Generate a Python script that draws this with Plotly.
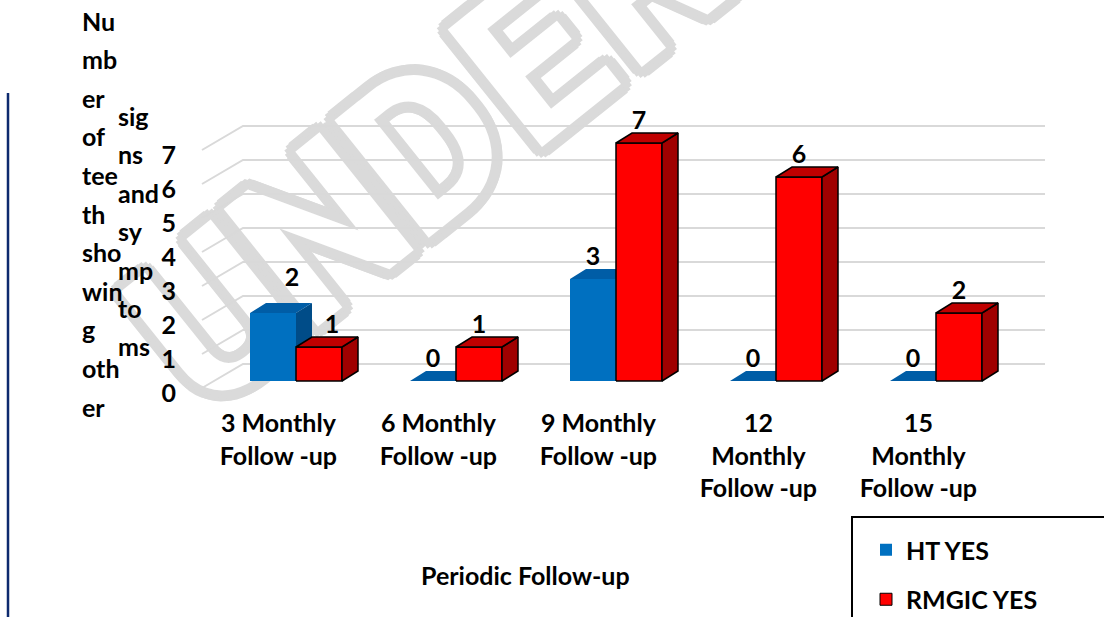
import math
import plotly.graph_objects as go

# ---------------- data ----------------
categories = ["3 Monthly<br>Follow -up", "6 Monthly<br>Follow -up", "9 Monthly<br>Follow -up",
              "12<br>Monthly<br>Follow -up", "15<br>Monthly<br>Follow -up"]
ht_yes = [2, 0, 3, 0, 0]
rmgic_yes = [1, 1, 7, 6, 2]
series_names = ["HT YES", "RMGIC YES"]
y_ticks = [0, 1, 2, 3, 4, 5, 6, 7]
y_title_col1 = ["Nu", "mb", "er", "of", "tee", "th", "sho", "win", "g", "oth", "er"]
y_title_col2 = ["sig", "ns", "and", "sy", "mp", "to", "ms"]
x_title = "Periodic Follow-up"
watermark = "UNDER"

# ---------------- geometry (pixels) ----------------
W, H = 1104, 617
L, R, T, B = 180, 1060, 100, 400
PX_X = 160.0          # px per category
X0 = 296.0            # pixel of category 0 centre
PX_Y = 34.0           # px per unit value
Y0 = 381.0            # pixel of value 0 at bar front plane
BW = 46 / PX_X        # bar width
DX, DY = 16 / PX_X, 10 / PX_Y   # bar depth
x_range = [(L - X0) / PX_X, (R - X0) / PX_X]
y_range = [(Y0 - B) / PX_Y, (Y0 - T) / PX_Y]


def px(xp):
    return (xp - L) / (R - L)


def py(yp):
    return (B - yp) / (B - T)


FONT = "Lato"
FS = 25
BLACK = "#000000"

fig = go.Figure()

# ---------------- 3D gridlines ----------------
gx_front, gx_back, gx_right = (202 - X0) / PX_X, (243 - X0) / PX_X, (1045 - X0) / PX_X
gy_front, gy_back = (Y0 - 388) / PX_Y, (Y0 - 364) / PX_Y
gxs, gys = [], []
for k in y_ticks:
    gxs += [gx_front, gx_back, gx_right, None]
    gys += [k + gy_front, k + gy_back, k + gy_back, None]
fig.add_trace(go.Scatter(x=gxs, y=gys, mode="lines", line=dict(color="#d9d9d9", width=2),
                         hoverinfo="skip", showlegend=False))


# ---------------- 3D bars ----------------
def faces(x0, x1, v):
    front = [(x0, 0), (x1, 0), (x1, v), (x0, v)]
    top = [(x0, v), (x1, v), (x1 + DX, v + DY), (x0 + DX, v + DY)]
    side = [(x1, 0), (x1 + DX, DY), (x1 + DX, v + DY), (x1, v)]
    return front, top, side


def poly_trace(polys, color, line_color, line_w):
    xs, ys = [], []
    for p in polys:
        for a, b in p + [p[0]]:
            xs.append(a)
            ys.append(b)
        xs.append(None)
        ys.append(None)
    return go.Scatter(x=xs, y=ys, mode="lines", fill="toself", fillcolor=color,
                      line=dict(color=line_color, width=line_w), hoverinfo="skip",
                      showlegend=False)


series = [
    (ht_yes, -BW, dict(front="#0070C0", top="#005da6", side="#004c88"), "rgba(0,0,0,0)", 0),
    (rmgic_yes, 0.0, dict(front="#FF0000", top="#C00000", side="#A00000"), BLACK, 1.5),
]
for vals, off, cols, lc, lw in series:
    fr, tp, sd = [], [], []
    for i, v in enumerate(vals):
        f, t, s = faces(i + off, i + off + BW, v)
        if v > 0:
            fr.append(f)
            sd.append(s)
        tp.append(t)
    fig.add_trace(poly_trace(fr, cols["front"], lc, lw))
    fig.add_trace(poly_trace(sd, cols["side"], lc, lw))
    fig.add_trace(poly_trace(tp, cols["top"], lc, lw))

# ---------------- data labels ----------------
label_nudge_px = {(0, 0): (19, 13), (1, 0): (13, 0)}
for si, (vals, off, cols, lc, lw) in enumerate(series):
    lx, ly = [], []
    for i, v in enumerate(vals):
        nx, ny = label_nudge_px.get((si, i), (0, 0))
        lx.append(i + off + BW / 2 + nx / PX_X)
        ly.append(v + (20 + ny) / PX_Y)
    fig.add_trace(go.Scatter(x=lx, y=ly, mode="text", text=[str(v) for v in vals],
                             textposition="middle center",
                             textfont=dict(family=FONT, size=FS, color=BLACK, weight="bold"),
                             hoverinfo="skip", showlegend=False))

# ---------------- legend entries ----------------
leg_styles = [dict(color="#0070C0", line=dict(width=0)),
              dict(color="#FF0000", line=dict(color=BLACK, width=1))]
for name, mk in zip(series_names, leg_styles):
    fig.add_trace(go.Bar(x=[None], y=[None], name=name, marker=mk, legendgroup=name))

# ---------------- axes ----------------
fig.update_xaxes(range=x_range, tickvals=[i - 0.11 for i in range(len(categories))],
                 ticktext=categories, showgrid=False, zeroline=False, showline=False, ticks="",
                 ticklabelstandoff=6,
                 tickfont=dict(family=FONT, size=FS, color=BLACK, weight="bold"))
fig.update_yaxes(range=y_range, tickvals=y_ticks, ticktext=[str(t) for t in y_ticks],
                 showgrid=False, zeroline=False, showline=False, ticks="",
                 ticklabelshift=12, ticklabelstandoff=3,
                 tickfont=dict(family=FONT, size=FS, color=BLACK, weight="bold"))

# ---------------- text annotations ----------------
ann = []
for k, s in enumerate(y_title_col1):
    ann.append(dict(x=px(80), y=py(20.5 + 38.6 * k), text=s, xanchor="left", yanchor="middle"))
for k, s in enumerate(y_title_col2):
    ann.append(dict(x=px(116), y=py(116 + 38.4 * k), text=s, xanchor="left", yanchor="middle"))
ann.append(dict(x=px(525), y=py(575), text=x_title, xanchor="center", yanchor="middle"))
for a in ann:
    a.update(xref="paper", yref="paper", showarrow=False,
             font=dict(family=FONT, size=FS, color=BLACK, weight="bold"))

# ---------------- decorations ----------------
shapes = []
# watermark: outlined letters via text shadow, one letter at a time along a slanted line
wm_col = "#dadada"
wm_angle = 38.7
wm_start = (205, 305)
wm_step = 136
shadow = ", ".join(f"{11 * math.cos(a * math.pi / 8):.1f}px {11 * math.sin(a * math.pi / 8):.1f}px 0 {wm_col}"
                   for a in range(16))
ca, sa = math.cos(math.radians(wm_angle)), math.sin(math.radians(wm_angle))
for k, ch in enumerate(watermark):
    cx = wm_start[0] + k * wm_step * ca
    cy = wm_start[1] - k * wm_step * sa
    shapes.append(dict(type="rect", xref="paper", yref="paper",
                       x0=px(cx - 5), x1=px(cx + 5), y0=py(cy + 5), y1=py(cy - 5),
                       line=dict(width=0), fillcolor="rgba(0,0,0,0)", layer="below",
                       label=dict(text=ch, textangle=-wm_angle, textposition="middle center",
                                  font=dict(family="Roboto", size=212, color="#ffffff", weight="bold",
                                            shadow=shadow))))
shapes += [
    dict(type="line", xref="paper", yref="paper", x0=px(8), x1=px(8), y0=py(93), y1=py(630),
         line=dict(color="#0d2a6e", width=2.5)),
    dict(type="rect", xref="paper", yref="paper", x0=px(852), x1=px(1115), y0=py(517), y1=py(630),
         line=dict(color=BLACK, width=2), fillcolor="rgba(0,0,0,0)"),
]

fig.update_layout(
    width=W, height=H, margin=dict(l=L, r=W - R, t=T, b=H - B, autoexpand=False),
    paper_bgcolor="#ffffff", plot_bgcolor="rgba(0,0,0,0)",
    font=dict(family=FONT, size=FS, color=BLACK),
    showlegend=True,
    legend=dict(x=px(866), y=py(527), xanchor="left", yanchor="top", bgcolor="rgba(0,0,0,0)",
                borderwidth=0, tracegroupgap=14,
                font=dict(family=FONT, size=FS, color=BLACK, weight="bold")),
    annotations=ann, shapes=shapes,
)

fig.write_html("out.html", config={"displayModeBar": False},
               post_script="document.body.style.margin='0px';")
